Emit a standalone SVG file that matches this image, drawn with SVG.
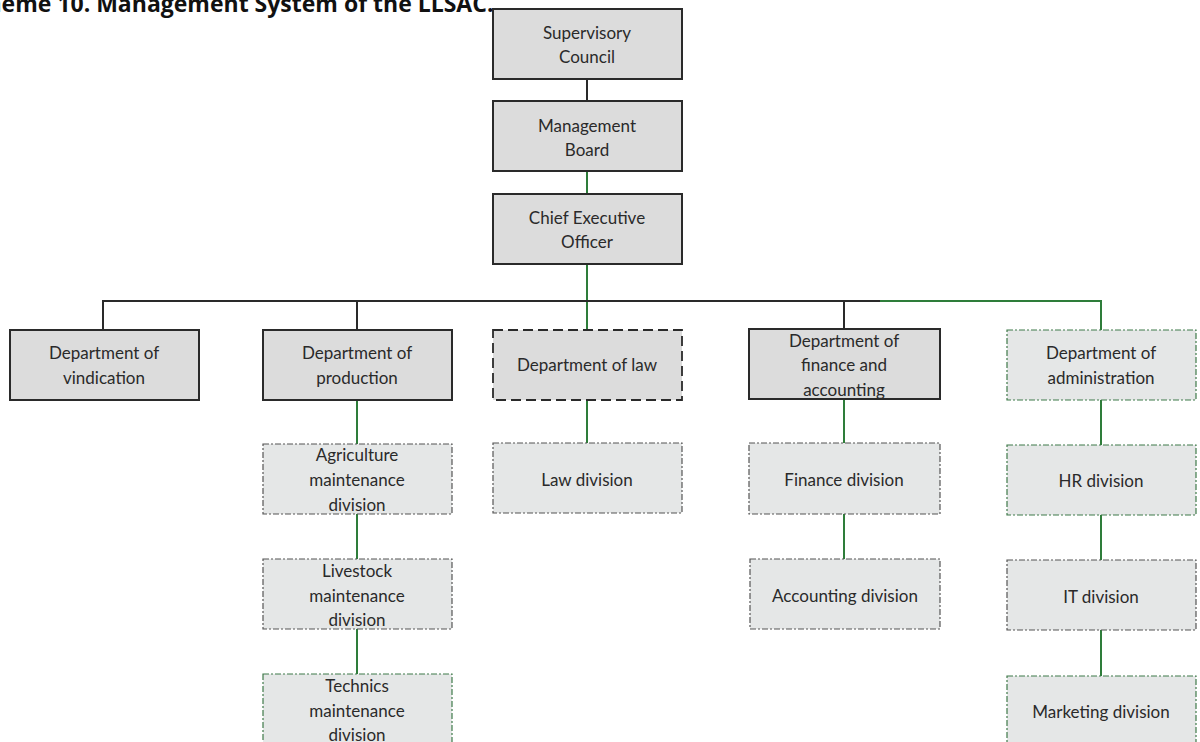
<svg xmlns="http://www.w3.org/2000/svg" width="1200" height="742" viewBox="0 0 1200 742">
<style>
text{font-family:Lato,"Open Sans","Liberation Sans",sans-serif;font-size:17px;fill:#2a2a2a;text-anchor:middle}
.title{font-family:"Open Sans","Liberation Sans",sans-serif;font-weight:bold;font-size:23px;fill:#111;text-anchor:start}
.solid{fill:#dcdcdc;stroke:#2a2a2a;stroke-width:2}
.dash{fill:#dcdcdc;stroke:#2a2a2a;stroke-width:1.8;stroke-dasharray:10 5}
.div{fill:#e5e7e7;stroke:#555;stroke-width:1.2;stroke-dasharray:6 2 2 2}
.divg{fill:#e5e7e7;stroke:#3f7a4a;stroke-width:1.2;stroke-dasharray:6 2 2 2}
.k{stroke:#2a2a2a;stroke-width:2;fill:none}
.g{stroke:#2e7d3a;stroke-width:2;fill:none}
</style>
<rect width="1200" height="742" fill="#ffffff"/>
<text class="title" x="-38" y="12">Scheme 10. Management System of the LLSAC.</text>
<g id="connectors">
<line class="k" x1="587" y1="79" x2="587" y2="101"/>
<line class="g" x1="587" y1="171" x2="587" y2="194"/>
<line class="g" x1="587" y1="264" x2="587" y2="330"/>
<line class="k" x1="103" y1="301" x2="880" y2="301"/>
<line class="g" x1="880" y1="301" x2="1101" y2="301"/>
<line class="k" x1="103" y1="300" x2="103" y2="330"/>
<line class="k" x1="357" y1="300" x2="357" y2="330"/>
<line class="k" x1="844" y1="300" x2="844" y2="329"/>
<line class="g" x1="1101" y1="300" x2="1101" y2="330"/>
<line class="g" x1="357" y1="400" x2="357" y2="444"/>
<line class="g" x1="357" y1="514" x2="357" y2="559"/>
<line class="g" x1="357" y1="629" x2="357" y2="674"/>
<line class="g" x1="587" y1="400" x2="587" y2="443"/>
<line class="g" x1="844" y1="399" x2="844" y2="443"/>
<line class="g" x1="844" y1="514" x2="844" y2="559"/>
<line class="g" x1="1101" y1="400" x2="1101" y2="445"/>
<line class="g" x1="1101" y1="515" x2="1101" y2="560"/>
<line class="g" x1="1101" y1="630" x2="1101" y2="676"/>
</g>
<g id="supervisory-council"><rect class="solid" x="493" y="9" width="189" height="70"/><text x="587" y="39">Supervisory</text><text x="587" y="63">Council</text></g>
<g id="management-board"><rect class="solid" x="493" y="101" width="189" height="70"/><text x="587" y="132">Management</text><text x="587" y="156">Board</text></g>
<g id="ceo"><rect class="solid" x="493" y="194" width="189" height="70"/><text x="587" y="224">Chief Executive</text><text x="587" y="248">Officer</text></g>
<g id="dept-vindication"><rect class="solid" x="10" y="330" width="189" height="70"/><text x="104" y="359">Department of</text><text x="104" y="384">vindication</text></g>
<g id="dept-production"><rect class="solid" x="263" y="330" width="189" height="70"/><text x="357" y="359">Department of</text><text x="357" y="384">production</text></g>
<g id="dept-law"><rect class="dash" x="493" y="330" width="189" height="70"/><text x="587" y="371">Department of law</text></g>
<g id="dept-finance"><rect class="solid" x="749" y="329" width="191" height="70"/><text x="844" y="347">Department of</text><text x="844" y="371">finance and</text><text x="844" y="396">accounting</text></g>
<g id="dept-administration"><rect class="divg" x="1007" y="330" width="189" height="70"/><text x="1101" y="359">Department of</text><text x="1101" y="384">administration</text></g>
<g id="agriculture-division"><rect class="div" x="263" y="444" width="189" height="70"/><text x="357" y="461">Agriculture</text><text x="357" y="486">maintenance</text><text x="357" y="511">division</text></g>
<g id="livestock-division"><rect class="div" x="263" y="559" width="189" height="70"/><text x="357" y="577">Livestock</text><text x="357" y="602">maintenance</text><text x="357" y="626">division</text></g>
<g id="technics-division"><rect class="divg" x="263" y="674" width="189" height="72"/><text x="357" y="692">Technics</text><text x="357" y="717">maintenance</text><text x="357" y="741">division</text></g>
<g id="law-division"><rect class="div" x="493" y="443" width="189" height="70"/><text x="587" y="486">Law division</text></g>
<g id="finance-division"><rect class="div" x="749" y="443" width="191" height="71"/><text x="844" y="486">Finance division</text></g>
<g id="accounting-division"><rect class="div" x="750" y="559" width="190" height="70"/><text x="845" y="602">Accounting division</text></g>
<g id="hr-division"><rect class="divg" x="1007" y="445" width="189" height="70"/><text x="1101" y="487">HR division</text></g>
<g id="it-division"><rect class="div" x="1007" y="560" width="189" height="70"/><text x="1101" y="603">IT division</text></g>
<g id="marketing-division"><rect class="divg" x="1007" y="676" width="189" height="70"/><text x="1101" y="718">Marketing division</text></g>
</svg>
